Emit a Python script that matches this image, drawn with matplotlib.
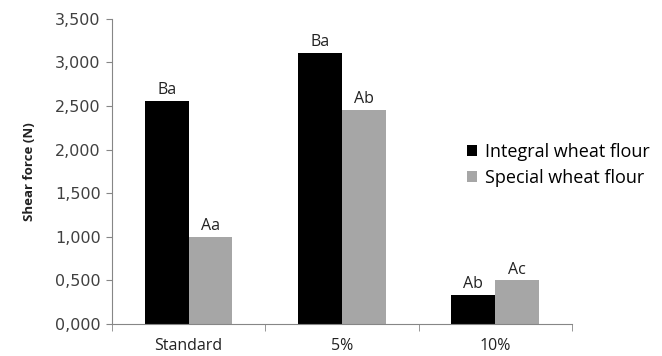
import numpy as np
import matplotlib
matplotlib.use('Agg')
import matplotlib.pyplot as plt
from matplotlib.ticker import FuncFormatter

categories = ['Standard', '5%', '10%']
integral = [2.56, 3.11, 0.33]
special = [1.00, 2.46, 0.50]
integral_letters = ['Ba', 'Ba', 'Ab']
special_letters = ['Aa', 'Ab', 'Ac']

fig = plt.figure(figsize=(6.62, 3.56), dpi=100)
ax = fig.add_axes([0.169, 0.09, 0.695, 0.857])

x = np.arange(len(categories))
w = 1 / 3.5

b1 = ax.bar(x - w / 2, integral, w, color='black', label='Integral wheat flour')
b2 = ax.bar(x + w / 2, special, w, color='#a6a6a6', label='Special wheat flour')

# significance letters above each bar
for bars, letters in [(b1, integral_letters), (b2, special_letters)]:
    for b, t in zip(bars, letters):
        ax.annotate(t, (b.get_x() + b.get_width() / 2, b.get_height()),
                    xytext=(0, 2), textcoords='offset points',
                    ha='center', va='bottom', fontsize=11.5, family='Open Sans',
                    color='#222222')

ax.set_xlim(-0.5, 2.5)
ax.set_ylim(0, 3.5)
ax.set_yticks(np.arange(0, 3.51, 0.5))
ax.yaxis.set_major_formatter(FuncFormatter(lambda v, p: '{:.3f}'.format(v).replace('.', ',')))
ax.set_xticks(x)
ax.set_xticklabels(categories, family='Open Sans', fontsize=11.5, color='#222222')
ax.set_xticks([-0.5, 0.5, 1.5, 2.5], minor=True)
ax.tick_params(axis='x', which='major', length=0, pad=10)
ax.tick_params(axis='x', which='minor', length=5, direction='out', color='#868686')
ax.tick_params(axis='y', length=4, direction='out', color='#868686', labelsize=11.5,
               labelcolor='#404040', pad=4)

for s in ['top', 'right']:
    ax.spines[s].set_visible(False)
for s in ['left', 'bottom']:
    ax.spines[s].set_color('#868686')

ax.set_ylabel('Shear force (N)', fontsize=9.5, fontweight='bold', family='Open Sans',
              labelpad=14, color='#222222')

ax.legend(loc='center left', bbox_to_anchor=(0.772, 0.522), frameon=False,
          prop={'family': 'Open Sans', 'size': 13}, handlelength=0.55, handleheight=0.55,
          handletextpad=0.45, labelspacing=0.45, borderaxespad=0, borderpad=0)

fig.savefig('out.png', dpi=100)
